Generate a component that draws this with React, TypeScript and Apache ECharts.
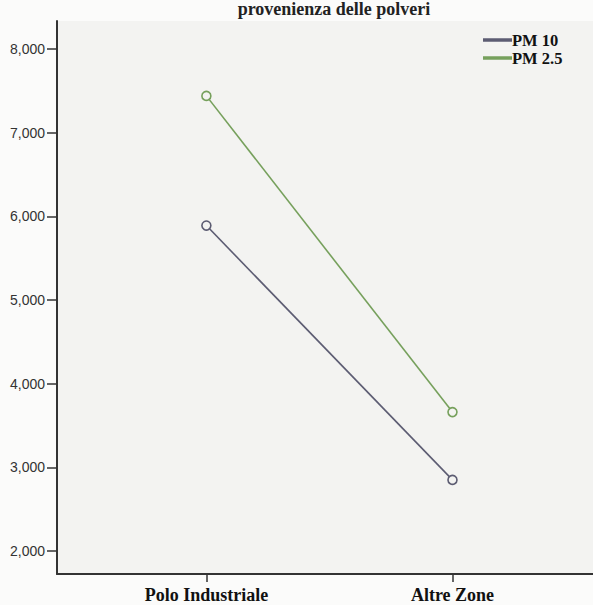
import React, { useEffect, useRef } from "react";
import * as echarts from "echarts";

const title = "provenienza delle polveri";
const categories = ["Polo Industriale", "Altre Zone"];
const seriesNames = ["PM 10", "PM 2.5"];
const pm10 = [5890, 2850];
const pm25 = [7440, 3660];
const yTicks = [2000, 3000, 4000, 5000, 6000, 7000, 8000];

export default function App() {
  const ref = useRef<HTMLDivElement>(null);
  useEffect(() => {
    const chart = echarts.init(ref.current!, null, { renderer: "svg" });
    const serif = "'Liberation Serif', 'Times New Roman', serif";
    const sans = "'Liberation Sans', Arial, sans-serif";
    const catIdx = categories.map((_, i) => i);
    const toPts = (vals: number[]) => vals.map((v, i) => [catIdx[i], v]);
    chart.setOption({
      animation: false,
      backgroundColor: "#fbfbfa",
      title: {
        text: title,
        left: 329,
        textAlign: "center",
        top: -5,
        textStyle: { fontFamily: serif, fontWeight: "bold", fontSize: 18, color: "#222" },
      },
      legend: {
        orient: "vertical",
        left: 478,
        top: 26,
        icon: "rect",
        itemWidth: 27,
        itemHeight: 1.5,
        itemGap: 0,
        data: seriesNames,
        textStyle: {
          fontFamily: serif,
          fontWeight: "bold",
          fontSize: 16.5,
          lineHeight: 18,
          color: "#111",
          padding: [0, 0, 0, -4],
        },
      },
      grid: {
        left: 57,
        right: -2,
        top: 21,
        bottom: 31,
        containLabel: false,
        show: true,
        backgroundColor: "#f3f3f1",
        borderWidth: 0,
      },
      xAxis: {
        type: "value",
        min: -0.607,
        max: 1.571,
        axisLine: { show: true, onZero: false, lineStyle: { color: "#333", width: 2 } },
        axisTick: { show: true, length: 8, customValues: catIdx, lineStyle: { color: "#333", width: 1.5 } },
        axisLabel: {
          customValues: catIdx,
          margin: 12,
          fontFamily: serif,
          fontWeight: "bold",
          fontSize: 18,
          color: "#111",
          formatter: (v: number) => categories[Math.round(v)] ?? "",
        },
        splitLine: { show: false },
      },
      yAxis: {
        type: "value",
        min: 1725,
        max: 8335,
        axisLine: { show: true, onZero: false, lineStyle: { color: "#333", width: 2 } },
        axisTick: { show: true, length: 10, customValues: yTicks, lineStyle: { color: "#333", width: 1.5 } },
        axisLabel: {
          customValues: yTicks,
          margin: 12,
          fontFamily: sans,
          fontSize: 14,
          color: "#333",
          formatter: (v: number) => v.toLocaleString("en-US"),
        },
        splitLine: { show: false },
      },
      series: [
        {
          name: seriesNames[0],
          type: "line",
          data: toPts(pm10),
          symbol: "circle",
          symbolSize: 9,
          color: "#5c5c72",
          lineStyle: { color: "#5c5c72", width: 1.6 },
          itemStyle: { color: "#f3f3f1", borderColor: "#5c5c72", borderWidth: 1.6 },
        },
        {
          name: seriesNames[1],
          type: "line",
          data: toPts(pm25),
          symbol: "circle",
          symbolSize: 9,
          color: "#76a05c",
          lineStyle: { color: "#76a05c", width: 1.6 },
          itemStyle: { color: "#f3f3f1", borderColor: "#76a05c", borderWidth: 1.6 },
        },
      ],
    });
    return () => chart.dispose();
  }, []);
  return (
    <div
      ref={ref}
      style={{ position: "fixed", left: 0, top: 0, width: 593, height: 605 }}
    />
  );
}
